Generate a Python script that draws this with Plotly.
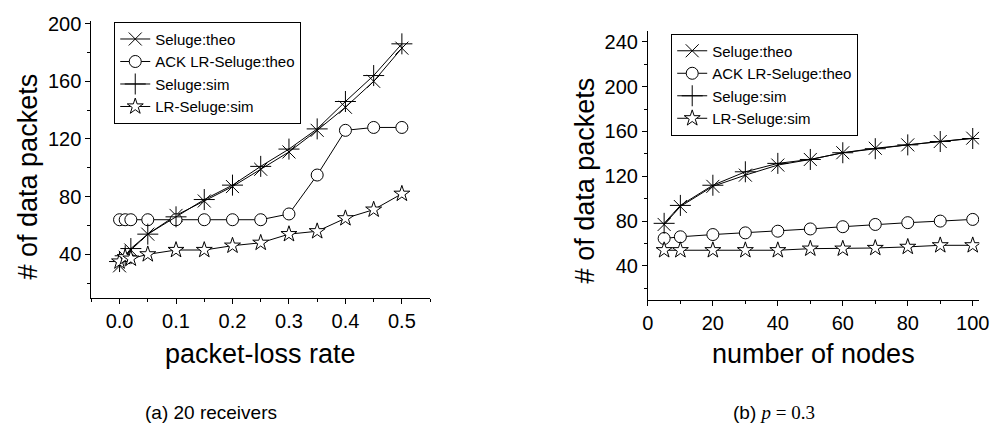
import plotly.graph_objects as go

# ---- data: (a) 20 receivers ----
loss_rate = [0, 0.01, 0.02, 0.05, 0.1, 0.15, 0.2, 0.25, 0.3, 0.35, 0.4, 0.45, 0.5]
a_seluge_theo = [32, 38, 43, 54, 67, 77, 87, 99, 111, 126, 142, 160, 183]
a_ack_lr_theo = [64, 64, 64, 64, 64, 64, 64, 64, 68, 95, 126, 128, 128]
a_seluge_sim = [35, 39, 44, 54, 66, 78, 88, 101, 113, 127, 146, 164, 186]
a_lr_sim = [35, 38, 37, 40, 43, 43, 46, 48, 54, 56, 65, 71, 82]

# ---- data: (b) p = 0.3 ----
nodes = [5, 10, 20, 30, 40, 50, 60, 70, 80, 90, 100]
b_seluge_theo = [77, 93, 111, 121, 130, 135, 141, 145, 148, 151, 154]
b_ack_lr_theo = [64.5, 66, 68, 69.5, 71, 73, 75, 77, 78.6, 80, 81.5]
b_seluge_sim = [78, 94, 112, 124, 131.5, 135, 141, 144.6, 148, 151, 153.7]
b_lr_sim = [54, 54, 54, 54, 54, 55.4, 55.4, 56, 57, 58.4, 58.4]

names = ["Seluge:theo", "ACK LR-Seluge:theo", "Seluge:sim", "LR-Seluge:sim"]
symbols = ["x-thin-open", "circle", "cross-thin-open", "star"]
fills = ["black", "white", "black", "white"]
sizes = [13, 12, 15, 12]

FONT = "Liberation Sans, Arial, sans-serif"
W, H = 1003, 436

fig = go.Figure()

def add_series(xs, series, xa, ya, leg):
    for i, ys in enumerate(series):
        fig.add_trace(go.Scatter(
            x=xs, y=ys, name=names[i], mode="lines+markers",
            line=dict(color="black", width=1),
            marker=dict(symbol=symbols[i], size=sizes[i], color=fills[i],
                        line=dict(color="black", width=1)),
            xaxis=xa, yaxis=ya, legend=leg))

add_series(loss_rate, [a_seluge_theo, a_ack_lr_theo, a_seluge_sim, a_lr_sim], "x", "y", "legend")
add_series(nodes, [b_seluge_theo, b_ack_lr_theo, b_seluge_sim, b_lr_sim], "x2", "y2", "legend2")

axis_common = dict(showline=True, linecolor="black", linewidth=1, ticks="outside",
                   ticklen=5, tickwidth=1, tickcolor="black", showgrid=False,
                   zeroline=False, mirror=False,
                   tickfont=dict(family=FONT, size=20, color="black"))

def px_x(p):
    return p / W

def px_y(p):
    return 1 - p / H

legend_common = dict(bgcolor="white", bordercolor="black", borderwidth=1,
                     font=dict(family=FONT, size=15, color="black"),
                     xanchor="left", yanchor="top", tracegroupgap=0,
                     itemwidth=30)

fig.update_layout(
    width=W, height=H, margin=dict(l=0, r=0, t=0, b=0),
    paper_bgcolor="white", plot_bgcolor="white",
    font=dict(family=FONT, color="black"),
    xaxis=dict(domain=[px_x(86.7), px_x(431)], range=[-0.05, 0.55], dtick=0.1,
               tick0=0, tickformat=".1f",
               minor=dict(dtick=0.05, ticklen=3, ticks="outside", tickcolor="black"),
               anchor="y", **axis_common),
    yaxis=dict(domain=[px_y(295), px_y(13)], range=[10, 202], dtick=40, tick0=0,
               minor=dict(dtick=20, ticklen=3, ticks="outside", tickcolor="black"),
               anchor="x", **axis_common),
    xaxis2=dict(domain=[px_x(652.3), px_x(989)], range=[0, 102], dtick=20, tick0=0,
                minor=dict(dtick=10, ticklen=3, ticks="outside", tickcolor="black"),
                anchor="y2", **axis_common),
    yaxis2=dict(domain=[px_y(297), px_y(23)], range=[10, 250], dtick=40, tick0=0,
                minor=dict(dtick=20, ticklen=3, ticks="outside", tickcolor="black"),
                anchor="x2", **axis_common),
    legend=dict(x=px_x(110), y=px_y(14), **legend_common),
    legend2=dict(x=px_x(676), y=px_y(26), **legend_common),
)

def ann(text, x, y, size, angle=0):
    fig.add_annotation(text=text, x=px_x(x), y=px_y(y), xref="paper", yref="paper",
                       showarrow=False, textangle=angle, xanchor="center",
                       yanchor="middle", font=dict(family=FONT, size=size, color="black"))

ann("# of data packets", 22, 172, 27, -90)
ann("# of data packets", 588, 176, 27, -90)
ann("packet-loss rate", 259, 352, 27)
ann("number of nodes", 821, 352, 27)
ann("(a) 20 receivers", 208, 412, 19)
ann("(b) <span style='font-family:Liberation Serif'><i>p</i> = 0.3</span>", 780, 412, 19)

fig.write_html("out.html")
